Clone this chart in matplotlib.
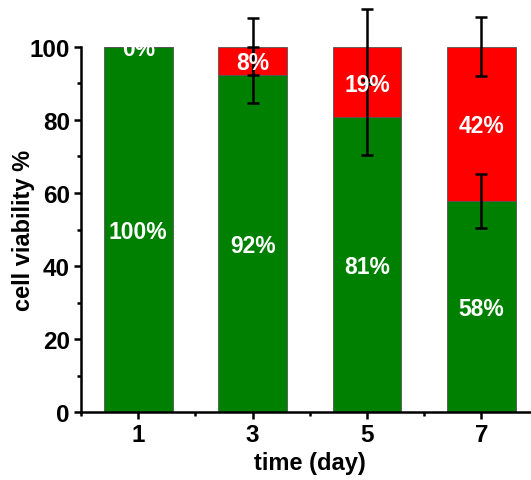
import matplotlib
matplotlib.use("Agg")
import matplotlib.pyplot as plt
import numpy as np
from matplotlib.ticker import MultipleLocator, FixedLocator

days = [1, 3, 5, 7]
live = [100, 92.3, 80.7, 57.9]
dead = [0, 7.7, 19.3, 42.1]
live_err = [0, 7.7, 10.3, 7.4]
dead_err = [0, 7.8, 10.3, 8.1]
live_labels = ["100%", "92%", "81%", "58%"]
dead_labels = ["0%", "8%", "19%", "42%"]

plt.rcParams['font.family'] = ['Liberation Sans', 'DejaVu Sans']
plt.rcParams['font.weight'] = 'bold'

fig = plt.figure(figsize=(5.31, 4.81), dpi=100)
ax = fig.add_axes([81 / 531, 67.7 / 481, 457.6 / 531, 365.6 / 481])

x = np.array(days, dtype=float)
live = np.array(live)
dead = np.array(dead)

ax.bar(x, live, width=1.2, color='#008000', edgecolor='#555555', linewidth=0.6, zorder=2)
ax.bar(x, dead, width=1.2, bottom=live, color='#ff0000', edgecolor='#555555', linewidth=0.6, zorder=2)

# error bars only where there is an error
m = np.array(live_err) > 0
ax.errorbar(x[m], live[m], yerr=np.array(live_err)[m], fmt='none', ecolor='black',
            elinewidth=1.8, capsize=4.5, capthick=1.8, clip_on=False, zorder=3)
m2 = np.array(dead_err) > 0
ax.errorbar(x[m2], (live + dead)[m2], yerr=np.array(dead_err)[m2], fmt='none', ecolor='black',
            elinewidth=1.8, capsize=4.5, capthick=1.8, clip_on=False, zorder=3)

for xi, l, d, ll, dl in zip(x, live, dead, live_labels, dead_labels):
    ax.text(xi, l / 2 - 0.6, ll, color='white', fontsize=16.5, fontweight='bold',
            ha='center', va='center', zorder=4)
    ax.text(xi, l + d / 2 - 0.6, dl, color='white', fontsize=16.5, fontweight='bold',
            ha='center', va='center', zorder=4, clip_on=True)

ax.set_xlim(0, 8)
ax.set_ylim(0, 100)
ax.xaxis.set_major_locator(FixedLocator(days))
ax.xaxis.set_minor_locator(FixedLocator([0, 2, 4, 6, 8]))
ax.yaxis.set_major_locator(MultipleLocator(20))
ax.yaxis.set_minor_locator(MultipleLocator(10))

for s in ['top', 'right']:
    ax.spines[s].set_visible(False)
for s in ['left', 'bottom']:
    ax.spines[s].set_linewidth(1.8)

ax.tick_params(which='major', direction='out', length=5, width=1.8, labelsize=17.5, pad=3)
ax.tick_params(which='minor', direction='out', length=3, width=1.8)

ax.set_xlabel('time (day)', fontsize=17, fontweight='bold', labelpad=3)
ax.set_ylabel('cell viability %', fontsize=17, fontweight='bold', labelpad=-4)

fig.savefig('out.png', dpi=100)
